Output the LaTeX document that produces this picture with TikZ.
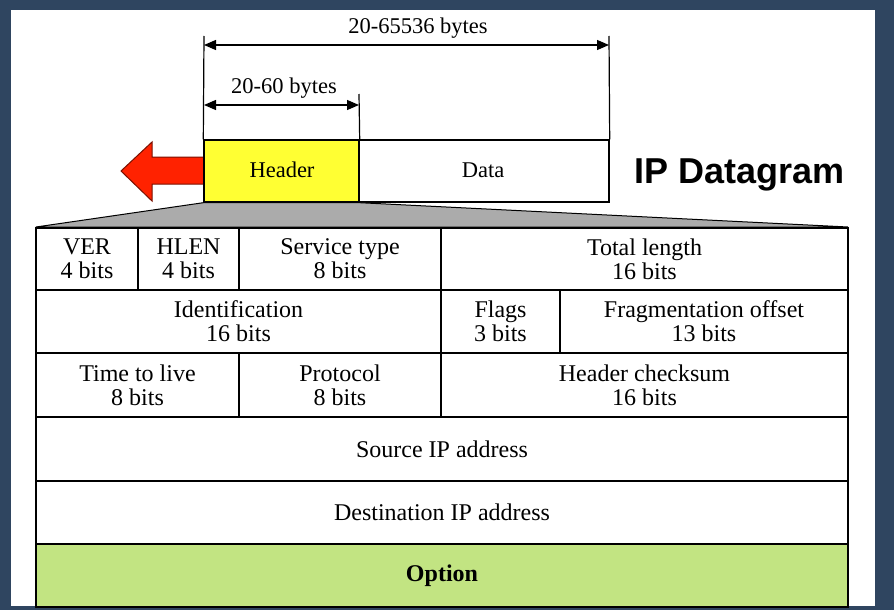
\documentclass[tikz,border=0pt]{standalone}
\usepackage{fontspec}
\setmainfont{Liberation Serif}
\newfontfamily\titlefont{Liberation Sans}
\usetikzlibrary{arrows.meta}
\definecolor{bgblue}{HTML}{2F4560}
\definecolor{hdryellow}{HTML}{FFFF33}
\definecolor{optgreen}{HTML}{C2E482}
\definecolor{arrowred}{HTML}{FF2200}
\definecolor{arrowedge}{HTML}{7A1000}
\definecolor{trapgray}{HTML}{ABABAB}
\begin{document}
\begin{tikzpicture}[x=1pt,y=-1pt,
  cell/.style={draw, line width=1.6pt, inner sep=0pt, align=center,
    font=\fontsize{24}{24}\selectfont},
  topbox/.style={draw, line width=1.4pt, inner sep=0pt,
    font=\fontsize{22}{24}\selectfont, minimum height=62pt},
  dimlabel/.style={anchor=base, inner sep=0pt, font=\fontsize{22.5}{24}\selectfont},
  dimline/.style={line width=1.2pt},
  dimarrow/.style={line width=1.2pt, {Triangle[length=12pt,width=10pt]}-{Triangle[length=12pt,width=10pt]}},
  redarrow/.style={fill=arrowred, draw=arrowedge, line width=1pt, line join=miter},
  trap/.style={fill=trapgray, draw=black, line width=1pt}
]
\useasboundingbox (0,0) rectangle (894,610);
% background and panel
\fill[bgblue] (0,0) rectangle (894,610);
\fill[white] (11,10) rectangle (875,606);

% red arrow (behind header)
\path[redarrow] (206,157) -- (152,157) -- (152,142) -- (121,171) -- (152,201) -- (152,184) -- (206,184) -- cycle;

% top boxes
\node[topbox, fill=hdryellow, minimum width=155pt] (hdr) at (281.5,171) {};
\node[topbox, fill=white, minimum width=250pt] (data) at (484,171) {};
\node[dimlabel] (hdrtxt) at (282,177) {Header};
\node[dimlabel] (datatxt) at (483,177) {Data};

% dimension lines
\coordinate (ltop) at (204,36);
\coordinate (rtop) at (609,36);
\coordinate (mtop) at (359,94);
\draw[dimline] (ltop) -- (hdr.north west);
\draw[dimline] (rtop) -- (data.north east);
\draw[dimline] (mtop) -- (hdr.north east);
\coordinate (a1s) at (204,45);
\coordinate (a1e) at (609,45);
\coordinate (a2s) at (204,105);
\coordinate (a2e) at (359,105);
\draw[dimarrow] (a1s) -- (a1e);
\draw[dimarrow] (a2s) -- (a2e);
\node[dimlabel] (tot) at (418,34) {20-65536 bytes};
\node[dimlabel] (hl) at (284,93) {20-60 bytes};

% title
\node[anchor=base west, inner sep=0pt, font=\titlefont\bfseries\fontsize{36}{40}\selectfont] (title) at (634,183) {IP Datagram};

% trapezoid
\coordinate (tl) at (36,227);
\coordinate (tr) at (848,227);
\path[trap] (hdr.south west) -- (tl) -- (tr) -- (hdr.south east) -- cycle;

% table row 1
\node[cell, minimum width=102pt, minimum height=62pt] (ver) at (87,259) {VER\\4 bits};
\node[cell, minimum width=101pt, minimum height=62pt] (hlen) at (188.5,259) {HLEN\\4 bits};
\node[cell, minimum width=202pt, minimum height=62pt] (tos) at (340,259) {Service type\\8 bits};
\node[cell, minimum width=407pt, minimum height=62pt] (totlen) at (644.5,259) {Total length\\16 bits};
% row 2
\node[cell, minimum width=405pt, minimum height=63pt] (ident) at (238.5,321.5) {Identification\\16 bits};
\node[cell, minimum width=119pt, minimum height=63pt] (flags) at (500.5,321.5) {Flags\\3 bits};
\node[cell, minimum width=288pt, minimum height=63pt] (frag) at (704,321.5) {Fragmentation offset\\13 bits};
% row 3
\node[cell, minimum width=203pt, minimum height=64pt] (ttl) at (137.5,385) {Time to live\\8 bits};
\node[cell, minimum width=202pt, minimum height=64pt] (proto) at (340,385) {Protocol\\8 bits};
\node[cell, minimum width=407pt, minimum height=64pt] (csum) at (644.5,385) {Header checksum\\16 bits};
% rows 4-6
\node[cell, minimum width=812pt, minimum height=64pt] (src) at (442,449) {Source IP address};
\node[cell, minimum width=812pt, minimum height=63pt] (dst) at (442,512.5) {Destination IP address};
\node[cell, fill=optgreen, minimum width=812pt, minimum height=63pt, font=\fontsize{24}{24}\selectfont\bfseries] (opt) at (442,575.5) {Option};
\end{tikzpicture}
\end{document}
